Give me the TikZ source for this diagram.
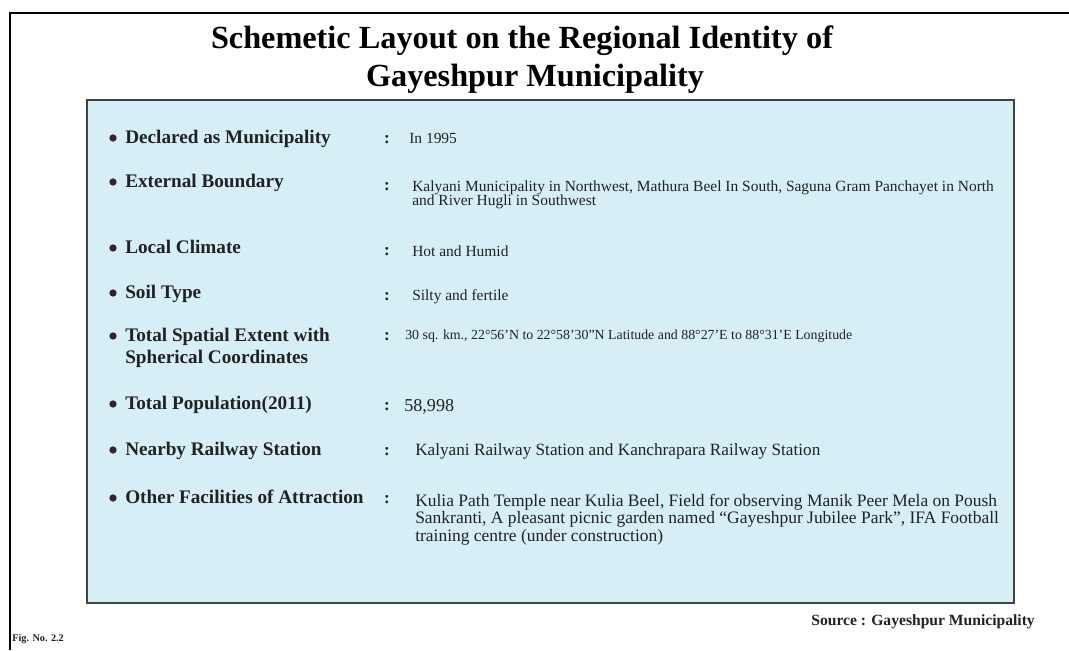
\documentclass[tikz,border=0pt]{standalone}
\usepackage{fontspec}
\setmainfont{Liberation Serif}
\definecolor{boxfill}{HTML}{D6EEF6}
\definecolor{boxline}{HTML}{3C4448}
\definecolor{txt}{HTML}{222222}
\definecolor{bul}{HTML}{3A1F2E}
\newcommand{\lines}[1]{\begin{tabular}[t]{@{}l@{}}#1\end{tabular}}
\begin{document}
\begin{tikzpicture}[x=0.75pt,y=-0.75pt,
  lab/.style={anchor=base west,inner sep=0pt,font=\fontsize{14.4}{16.5}\selectfont\bfseries,text=txt},
  val/.style={anchor=base west,inner sep=0pt,font=\fontsize{11.6}{10.5}\selectfont,text=txt},
  valbig/.style={anchor=base west,inner sep=0pt,font=\fontsize{12.9}{13.2}\selectfont,text=txt},
  colon/.style={anchor=base,inner sep=0pt,font=\fontsize{12.8}{14}\selectfont\bfseries,text=txt},
  bullet/.style={circle,fill=bul,inner sep=0pt,minimum size=5.5pt}]
\useasboundingbox (0,0) rectangle (1069,650);
\fill[white] (0,0) rectangle (1069,650);
% outer frame
\draw[line width=2.2pt,black] (10,650) -- (10,13) -- (1069,13);
% inner box
\draw[line width=1.6pt,boxline,fill=boxfill] (87,100) rectangle (1014,603);
% title
\node[anchor=base,inner sep=0pt,font=\fontsize{24.2}{28}\selectfont\bfseries] (t1) at (522,48) {Schemetic Layout on the Regional Identity of};
\node[anchor=base,inner sep=0pt,font=\fontsize{24.2}{28}\selectfont\bfseries] (t2) at (535,86) {Gayeshpur Municipality};
% rows
\node[bullet] (b1) at (113,138) {};
\node[lab] (l1) at (125,143) {Declared as Municipality};
\node[colon] (c1) at (387,143) {:};
\node[val] (v1) at (409,143) {In 1995};

\node[bullet] (b2) at (113,182) {};
\node[lab] (l2) at (125,187) {External Boundary};
\node[colon] (c2) at (387,190) {:};
\node[val] (v2) at (412,191) {\lines{Kalyani Municipality in Northwest, Mathura Beel In South, Saguna Gram Panchayet in North\\and River Hugli in Southwest}};

\node[bullet] (b3) at (113,248) {};
\node[lab] (l3) at (125,253) {Local Climate};
\node[colon] (c3) at (387,255) {:};
\node[val] (v3) at (412,256) {Hot and Humid};

\node[bullet] (b4) at (113,293) {};
\node[lab] (l4) at (125,298) {Soil Type};
\node[colon] (c4) at (387,300) {:};
\node[val] (v4) at (412,300) {Silty and fertile};

\node[bullet] (b5) at (113,336) {};
\node[lab] (l5) at (125,341) {\lines{Total Spatial Extent with\\Spherical Coordinates}};
\node[colon] (c5) at (387,340) {:};
\node[val,font=\fontsize{10.4}{11}\selectfont] (v5) at (405,339) {30 sq. km., 22°56'N to 22°58'30"N Latitude and 88°27'E to 88°31'E Longitude};

\node[bullet] (b6) at (113,404) {};
\node[lab] (l6) at (125,409) {Total Population(2011)};
\node[colon] (c6) at (387,410) {:};
\node[valbig,font=\fontsize{13.6}{14}\selectfont] (v6) at (404,411) {58,998};

\node[bullet] (b7) at (113,450) {};
\node[lab] (l7) at (125,455) {Nearby Railway Station};
\node[colon] (c7) at (387,455) {:};
\node[valbig] (v7) at (415,455) {Kalyani Railway Station and Kanchrapara Railway Station};

\node[bullet] (b8) at (113,498) {};
\node[lab] (l8) at (125,503) {Other Facilities of Attraction};
\node[colon] (c8) at (387,503) {:};
\node[valbig,font=\fontsize{13.1}{13.4}\selectfont] (v8) at (415,506) {\lines{Kulia Path Temple near Kulia Beel, Field for observing Manik Peer Mela on Poush\\Sankranti, A pleasant picnic garden named ``Gayeshpur Jubilee Park'', IFA Football\\training centre (under construction)}};

% source and fig
\node[anchor=base east,inner sep=0pt,font=\fontsize{11.7}{13}\selectfont\bfseries,text=txt] (src) at (1035,625) {Source : Gayeshpur Municipality};
\node[anchor=base west,inner sep=0pt,font=\fontsize{7.7}{9}\selectfont\bfseries,text=txt] (fig) at (12,641) {Fig. No. 2.2};
\end{tikzpicture}
\end{document}
